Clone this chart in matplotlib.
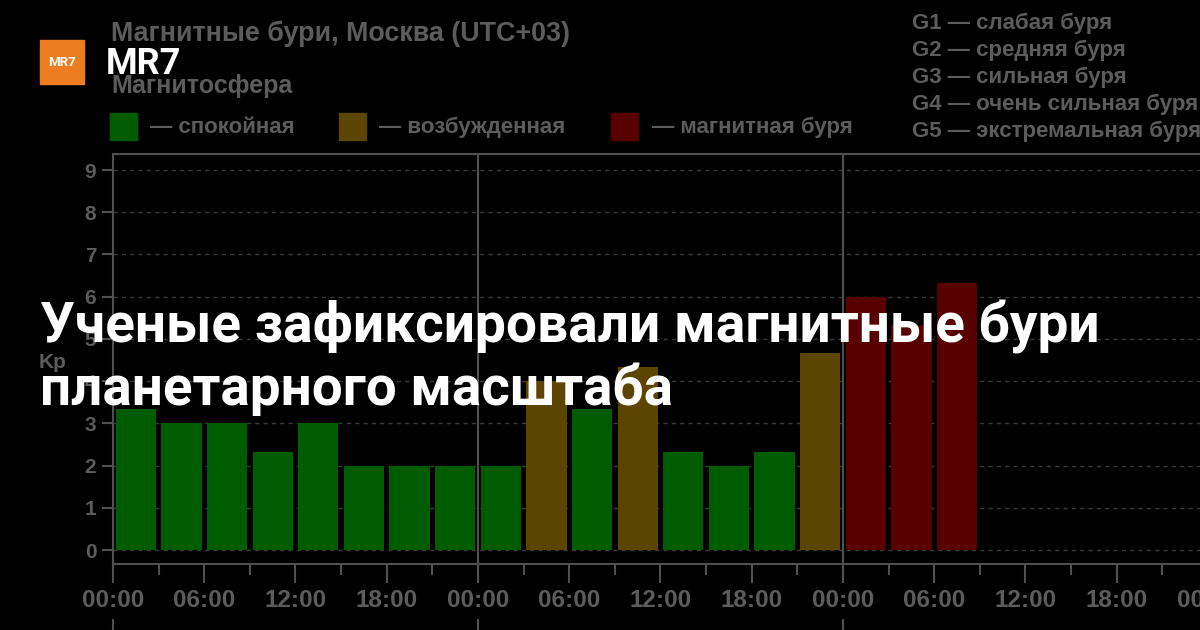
import matplotlib
matplotlib.use('Agg')
import matplotlib.pyplot as plt
import matplotlib.transforms as mtransforms
from matplotlib.patches import Rectangle
import numpy as np

plt.rcParams['font.family'] = ['Roboto', 'DejaVu Sans']
CHART_FONT = ['Liberation Sans', 'DejaVu Sans']

# Kp index, 3-hour intervals (3 days, Moscow time)
kp_values = [3.33, 3, 3, 2.33, 3, 2, 2, 2,
             2, 4, 3.33, 4.33, 2.33, 2, 2.33, 4.67,
             6, 5.33, 6.33]
tick_hours = list(range(0, 73, 6))
tick_labels = ['00:00', '06:00', '12:00', '18:00'] * 3 + ['00:00']
legend_labels = ['— спокойная', '— возбужденная', '— магнитная буря']
g_levels = ['G1 — слабая буря', 'G2 — средняя буря', 'G3 — сильная буря',
            'G4 — очень сильная буря', 'G5 — экстремальная буря']

GREEN = '#005c00'
YELLOW = '#5c4500'
RED = '#580000'
GRAY = '#5c5c5c'
LINE = '#505050'

W, H = 1200, 630


def fx(x):
    return x / W


def fy(y):
    return 1 - y / H


def bar_color(kp):
    if kp < 4:
        return GREEN
    if kp < 5:
        return YELLOW
    return RED


fig = plt.figure(figsize=(12, 6.3), dpi=100, facecolor='black')
# axes run past the right edge of the picture, like the cropped screenshot
ax = fig.add_axes([fx(113), fy(564), fx(1213) - fx(113), fy(154) - fy(564)])
ax.set_facecolor('black')

x = np.arange(len(kp_values)) * 3 + 1.5
ax.bar(x, kp_values, width=2.65, color=[bar_color(v) for v in kp_values], zorder=3)

ax.set_xlim(0, 72.33)
ax.set_ylim(-0.33, 9.38)

ax.set_yticks(range(10))
ax.set_xticks(tick_hours)
ax.set_xticklabels(tick_labels)
ax.set_xticks(range(3, 72, 6), minor=True)

ax.tick_params(axis='y', colors=LINE, labelcolor=GRAY, length=8, width=1.5,
               labelsize=15, pad=4)
ax.tick_params(axis='x', which='major', colors=LINE, labelcolor=GRAY, length=14,
               width=1.5, labelsize=17.5, pad=4)
ax.tick_params(axis='x', which='minor', colors=LINE, length=8, width=1.5)
for t in ax.get_yticklabels() + ax.get_xticklabels():
    t.set_fontweight('bold')
    t.set_family(CHART_FONT)

ax.grid(axis='y', color='#3a3a3a', linestyle=(0, (3, 3)), linewidth=1, zorder=0)
for s in ax.spines.values():
    s.set_color(LINE)
    s.set_linewidth(1.5)

ax.vlines([24, 48], -0.33, 9.38, color=LINE, linewidth=1.5, zorder=4)
blend = mtransforms.blended_transform_factory(ax.transData, ax.transAxes)
ax.vlines([0, 24, 48], -0.135, -0.2, color=LINE, linewidth=1.5,
          transform=blend, clip_on=False)

fig.text(fx(53), fy(362), 'Kp', color=GRAY, fontsize=15, fontweight='bold',
         family=CHART_FONT, ha='center', va='center')

# chart header
fig.text(fx(111), fy(41), 'Магнитные бури, Москва (UTC+03)', color=GRAY,
         fontsize=19.4, fontweight='bold', family=CHART_FONT, va='baseline')
fig.text(fx(111), fy(93), 'Магнитосфера', color=GRAY, fontsize=18,
         fontweight='bold', family=CHART_FONT, va='baseline')

sq = [(110, GREEN), (339, YELLOW), (611, RED)]
text_x = [150, 379, 652]
for (sx, c), tx, lab in zip(sq, text_x, legend_labels):
    fig.add_artist(Rectangle((fx(sx), fy(140)), fx(27), 27 / H, color=c,
                             transform=fig.transFigure))
    fig.text(fx(tx), fy(133), lab, color=GRAY, fontsize=16,
             fontweight='bold', family=CHART_FONT, va='baseline')

for i, lab in enumerate(g_levels):
    fig.text(fx(912), fy(29 + 27 * i), lab, color=GRAY, fontsize=16,
             fontweight='bold', family=CHART_FONT, va='baseline')

# MR7 overlay
fig.add_artist(Rectangle((fx(40), fy(84)), fx(44), 44 / H, color='#ee7d22',
                         transform=fig.transFigure))
fig.text(fx(62), fy(62), 'MR7', color='white', fontsize=9.5, fontweight='bold',
         ha='center', va='center')
fig.text(fx(106), fy(74), 'MR7', color='white', fontsize=26, fontweight='bold',
         va='baseline')

fig.text(fx(40), fy(342), 'Ученые зафиксировали магнитные бури', color='white',
         fontsize=39.6, fontweight='bold', va='baseline')
fig.text(fx(40), fy(405), 'планетарного масштаба', color='white',
         fontsize=39.4, fontweight='bold', va='baseline')

fig.savefig('out.png', dpi=100, facecolor='black')
